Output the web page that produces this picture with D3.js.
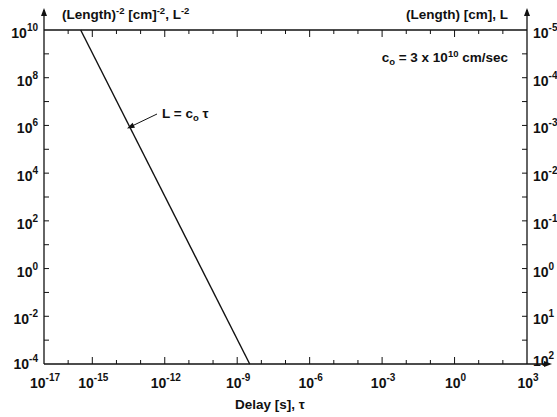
<!DOCTYPE html>
<html>
<head>
<meta charset="utf-8">
<script src="https://cdn.jsdelivr.net/npm/d3@7"></script>
<style>
body { margin: 0; background: #fff; }
text { font-family: "Liberation Sans", Arial, sans-serif; font-weight: bold; fill: #111; }
</style>
</head>
<body>
<div id="chart"></div>
<script>
const W = 557, H = 417;
const m = { left: 44, right: 30, top: 30, bottom: 53 };

// decades on the delay axis (exponents)
const xDecades = d3.range(-17, 4);
const xLabelExp = [-17, -15, -12, -9, -6, -3, 0, 3];
// decades on the (Length)^-2 axis
const yDecades = d3.range(-4, 11);
const yLabelExp = [10, 8, 6, 4, 2, 0, -2, -4];
// right axis: Length exponents, L^-2 = 10^(-2e)
const rightLabelExp = [-5, -4, -3, -2, -1, 0, 1, 2];

// line L = c0 tau
const delay = [3.3e-16, 3.3e-9];
const invLenSq = [1e10, 1e-4];

const svg = d3.select("#chart").append("svg").attr("width", W).attr("height", H);

const x = d3.scaleLog().domain([1e-17, 1e3]).range([m.left, W - m.right]);
const y = d3.scaleLog().domain([1e-4, 1e10]).range([H - m.bottom, m.top]);

const x0 = m.left, x1 = W - m.right, y0 = H - m.bottom, y1 = m.top;
const ink = "#111";

// frame lines
svg.append("line").attr("x1", x0).attr("x2", x1).attr("y1", y1).attr("y2", y1).attr("stroke", ink).attr("stroke-width", 1.3);
svg.append("line").attr("x1", x0).attr("x2", x1 + 22).attr("y1", y0).attr("y2", y0).attr("stroke", ink).attr("stroke-width", 1.3);
svg.append("line").attr("x1", x0).attr("x2", x0).attr("y1", y0).attr("y2", y1 - 20).attr("stroke", ink).attr("stroke-width", 1.3);
svg.append("line").attr("x1", x1).attr("x2", x1).attr("y1", y0).attr("y2", y1 - 20).attr("stroke", ink).attr("stroke-width", 1.3);

// arrow heads
function arrow(px, py, dir) {
  let pts;
  if (dir === "up") pts = [[px, py], [px - 3, py + 8], [px + 3, py + 8]];
  else pts = [[px, py], [px - 8, py - 3], [px - 8, py + 3]];
  svg.append("path").attr("d", d3.line()(pts) + "Z").attr("fill", ink);
}
arrow(x0, y1 - 22, "up");
arrow(x1, y1 - 22, "up");
arrow(x1 + 25, y0, "right");

// x ticks, bottom (up) and top (down)
xDecades.forEach(e => {
  const px = x(Math.pow(10, e));
  const big = xLabelExp.includes(e);
  const len = big ? 7 : 4;
  if (e > -17 && e < 3) {
    svg.append("line").attr("x1", px).attr("x2", px).attr("y1", y0).attr("y2", y0 - len).attr("stroke", ink);
    svg.append("line").attr("x1", px).attr("x2", px).attr("y1", y1).attr("y2", y1 + len).attr("stroke", ink);
  }
});

// y ticks, left and right (pointing inward)
yDecades.forEach(e => {
  const py = y(Math.pow(10, e));
  if (e > -4 && e < 10) {
    svg.append("line").attr("x1", x0).attr("x2", x0 + 5).attr("y1", py).attr("y2", py).attr("stroke", ink);
    svg.append("line").attr("x1", x1).attr("x2", x1 - 5).attr("y1", py).attr("y2", py).attr("stroke", ink);
  }
});

function powLabel(g, base, exp) {
  const t = g.append("text").attr("font-size", 14);
  t.append("tspan").text(base);
  t.append("tspan").attr("font-size", 10).attr("dy", -7).text(exp);
  return t;
}

// bottom labels
xLabelExp.forEach(e => {
  const t = powLabel(svg, "10", e);
  t.attr("x", x(Math.pow(10, e)) + 1).attr("y", 388).attr("text-anchor", "middle");
});

// left labels
yLabelExp.forEach(e => {
  const t = powLabel(svg, "10", e);
  let py = y(Math.pow(10, e)) + 8;
  if (e === -4) py -= 3;
  t.attr("x", 38).attr("y", py).attr("text-anchor", "end");
});

// right labels
rightLabelExp.forEach(e => {
  const t = powLabel(svg, "10", e);
  let py = y(Math.pow(10, -2 * e)) + 8;
  if (e === 2) py -= 6;
  t.attr("x", x1 + 6).attr("y", py);
});

// the line
const pts = delay.map((d, i) => [x(d), y(invLenSq[i])]);
svg.append("path").attr("d", d3.line()(pts)).attr("fill", "none").attr("stroke", ink).attr("stroke-width", 1.4);

// axis titles
const t1 = svg.append("text").attr("x", 62).attr("y", 19).attr("font-size", 13.5);
t1.append("tspan").text("(Length)");
t1.append("tspan").attr("font-size", 9.5).attr("dy", -5).text("-2");
t1.append("tspan").attr("dy", 5).text(" [cm]");
t1.append("tspan").attr("font-size", 9.5).attr("dy", -5).text("-2");
t1.append("tspan").attr("dy", 5).text(", L");
t1.append("tspan").attr("font-size", 9.5).attr("dy", -5).text("-2");

svg.append("text").attr("x", 508).attr("y", 19).attr("font-size", 13.5).attr("text-anchor", "end").text("(Length) [cm], L");

svg.append("text").attr("x", 270).attr("y", 409).attr("font-size", 13.5).attr("text-anchor", "middle").text("Delay [s], \u03c4");

// annotation c0
const t2 = svg.append("text").attr("x", 508).attr("y", 62).attr("font-size", 13.5).attr("text-anchor", "end");
t2.append("tspan").text("c");
t2.append("tspan").attr("font-size", 9.5).attr("dy", 3).text("o");
t2.append("tspan").attr("dy", -3).text(" = 3 x 10");
t2.append("tspan").attr("font-size", 9.5).attr("dy", -5).text("10");
t2.append("tspan").attr("dy", 5).text(" cm/sec");

// L = c0 tau label and arrow
const t3 = svg.append("text").attr("x", 162).attr("y", 118).attr("font-size", 13.5);
t3.append("tspan").text("L = c");
t3.append("tspan").attr("font-size", 9.5).attr("dy", 3).text("o");
t3.append("tspan").attr("dy", -3).text(" \u03c4");

svg.append("line").attr("x1", 157).attr("y1", 114).attr("x2", 132).attr("y2", 126).attr("stroke", ink);
const ang = Math.atan2(126 - 114, 132 - 157);
const hx = 127, hy = 128.5;
const hp = [[hx, hy],
  [hx - 8 * Math.cos(ang - 0.35), hy - 8 * Math.sin(ang - 0.35)],
  [hx - 8 * Math.cos(ang + 0.35), hy - 8 * Math.sin(ang + 0.35)]];
svg.append("path").attr("d", d3.line()(hp) + "Z").attr("fill", ink);
</script>
</body>
</html>
